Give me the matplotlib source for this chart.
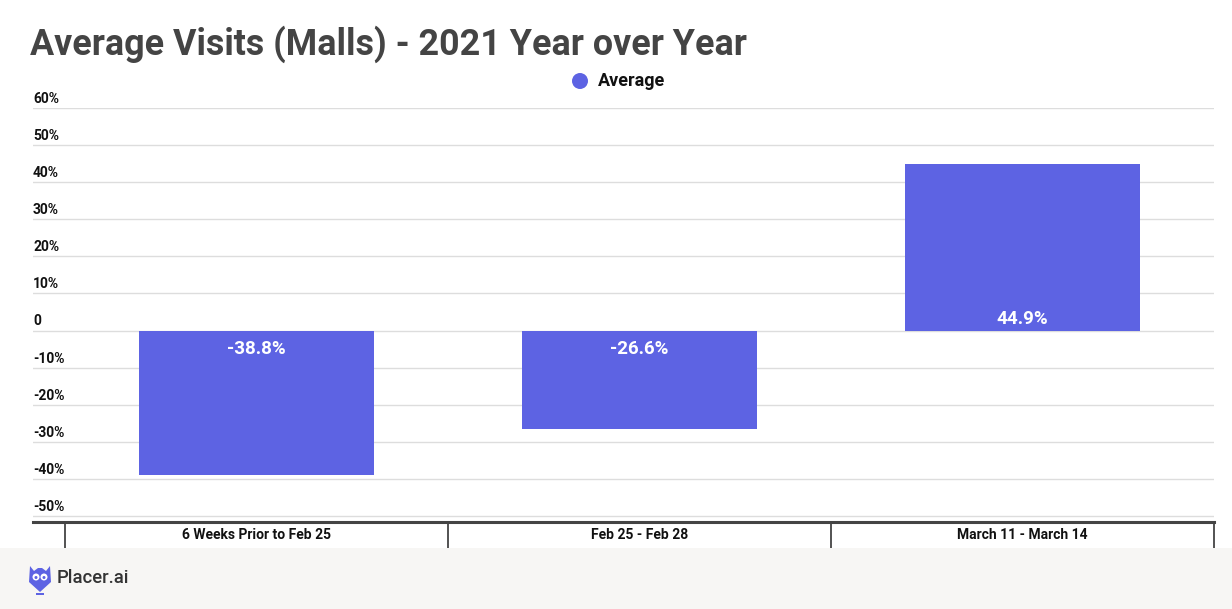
import matplotlib
matplotlib.use("Agg")
import matplotlib.pyplot as plt
from matplotlib.patches import Rectangle, Polygon, Ellipse

plt.rcParams['font.family'] = ['Roboto', 'DejaVu Sans']

# data
categories = ["6 Weeks Prior to Feb 25", "Feb 25 - Feb 28", "March 11 - March 14"]
values = [-38.8, -26.6, 44.9]
value_labels = ["-38.8%", "-26.6%", "44.9%"]
yticks = [60, 50, 40, 30, 20, 10, 0, -10, -20, -30, -40, -50]
ytick_labels = ["60%", "50%", "40%", "30%", "20%", "10%", "0",
                "-10%", "-20%", "-30%", "-40%", "-50%"]

W, H = 1232, 609
bar_color = "#5d63e3"

fig = plt.figure(figsize=(W / 100, H / 100), dpi=100)
fig.patch.set_facecolor("white")

# footer band
fig.patches.append(Rectangle((0, 0), 1, 61 / H, transform=fig.transFigure,
                             facecolor="#f7f6f4", edgecolor="none", zorder=0))

# plot area: x 33..1214 px, y 108..522 px
ax = fig.add_axes([33 / W, 1 - 522 / H, (1214 - 33) / W, (522 - 108) / H])
ax.set_facecolor("none")
ax.set_xlim(-0.5 - 32 / 383, 2.5)
ax.set_ylim(-51.6, 60)

for s in ["top", "right", "left"]:
    ax.spines[s].set_visible(False)
ax.spines["bottom"].set_color("#444444")
ax.spines["bottom"].set_linewidth(2.2)

for t, lab in zip(yticks, ytick_labels):
    ax.axhline(t, color="#dddddd", lw=1, zorder=0)
    ax.annotate(lab, xy=(0, t), xycoords=("axes fraction", "data"),
                xytext=(0, 1.5), textcoords="offset points",
                ha="left", va="bottom", fontsize=10, fontweight="bold",
                color="#111111")

ax.set_yticks([])
ax.set_xticks([])

x = list(range(len(categories)))
bars = ax.bar(x, values, width=0.616, color=bar_color, zorder=2)

for xi, v, lab in zip(x, values, value_labels):
    if v < 0:
        ax.annotate(lab, xy=(xi, 0), xytext=(0, -7), textcoords="offset points",
                    ha="center", va="top", fontsize=13.5, fontweight="bold",
                    color="white", zorder=3)
    else:
        ax.annotate(lab, xy=(xi, 0), xytext=(0, 2), textcoords="offset points",
                    ha="center", va="bottom", fontsize=13.5, fontweight="bold",
                    color="white", zorder=3)

# category separators and labels below axis
for b in [-0.5, 0.5, 1.5, 2.5]:
    ax.plot([b, b], [0, -26 / (522 - 108)], transform=ax.get_xaxis_transform(),
            color="#444444", lw=1.3, clip_on=False)
for xi, c in zip(x, categories):
    ax.text(xi, -13 / (522 - 108), c, transform=ax.get_xaxis_transform(),
            ha="center", va="center", fontsize=10, fontweight="bold",
            color="#111111")

# title
fig.text(30 / W, 1 - 44 / H, "Average Visits (Malls) - 2021 Year over Year",
         ha="left", va="center", fontsize=25.8, fontweight="bold", color="#444444")

# legend
fig.patches.append(Ellipse((580 / W, 1 - 81 / H), 16 / W, 16 / H,
                           transform=fig.transFigure, facecolor=bar_color,
                           edgecolor="none"))
fig.text(598 / W, 1 - 81 / H, "Average", ha="left", va="center",
         fontsize=13, fontweight="bold", color="#111111")

# footer logo
logo_col = "#5d63e3"
pts = [(30, 566), (34, 571), (38, 568), (42, 568), (46, 571), (50, 566),
       (51, 582), (40, 592), (29, 582)]
fig.patches.append(Polygon([(px / W, 1 - py / H) for px, py in pts], closed=True,
                           transform=fig.transFigure, facecolor=logo_col,
                           edgecolor="none"))
for ex in [36, 44]:
    fig.patches.append(Ellipse((ex / W, 1 - 577 / H), 7 / W, 7 / H,
                               transform=fig.transFigure, facecolor="white",
                               edgecolor="none"))
    fig.patches.append(Ellipse((ex / W, 1 - 577.5 / H), 3 / W, 3 / H,
                               transform=fig.transFigure, facecolor=logo_col,
                               edgecolor="none"))
fig.patches.append(Rectangle((36 / W, 1 - 594.5 / H), 8 / W, 1.2 / H,
                             transform=fig.transFigure, facecolor=logo_col,
                             edgecolor="none"))
fig.text(57 / W, 1 - 578 / H, "Placer.ai", ha="left", va="center",
         fontsize=13.3, color="#333333", fontweight="medium")

fig.savefig("out.png", dpi=100)
